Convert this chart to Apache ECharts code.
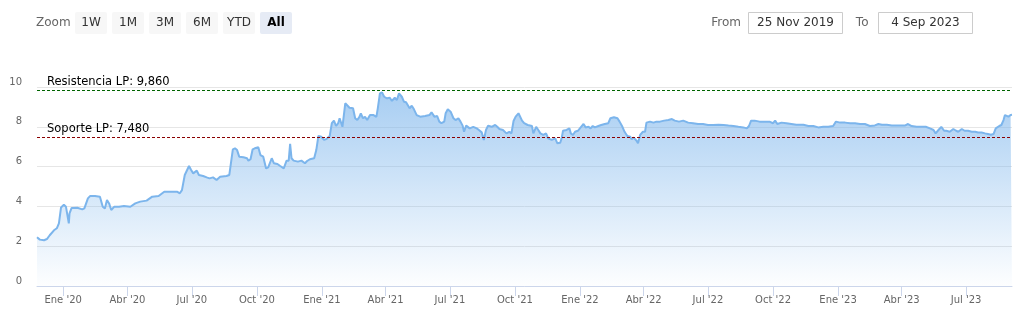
<!DOCTYPE html>
<html>
<head>
<meta charset="utf-8">
<script src="https://cdn.jsdelivr.net/npm/echarts@6/dist/echarts.min.js"></script>
<style>
html,body{margin:0;padding:0;background:#fff;}
#chart{width:1028px;height:315px;}
</style>
</head>
<body>
<div id="chart"></div>
<script>
// ---- data ----
const dates = [
'2019-11-25','2019-11-29','2019-12-05','2019-12-09','2019-12-13','2019-12-19','2019-12-23','2019-12-26','2019-12-29',
'2020-01-02','2020-01-05','2020-01-09','2020-01-10','2020-01-13','2020-01-21','2020-01-28','2020-01-31',
'2020-02-05','2020-02-08','2020-02-15','2020-02-22','2020-02-26','2020-02-29',
'2020-03-03','2020-03-06','2020-03-09','2020-03-13','2020-03-20','2020-03-27',
'2020-04-05','2020-04-12','2020-04-19','2020-04-28',
'2020-05-06','2020-05-15','2020-05-23','2020-05-31',
'2020-06-10','2020-06-14','2020-06-17','2020-06-21','2020-06-27','2020-06-30',
'2020-07-03','2020-07-08','2020-07-11','2020-07-17','2020-07-22','2020-07-26','2020-07-31',
'2020-08-05','2020-08-10','2020-08-19','2020-08-23','2020-08-25','2020-08-28','2020-08-31',
'2020-09-03','2020-09-06','2020-09-12','2020-09-17','2020-09-19','2020-09-22','2020-09-25','2020-09-28',
'2020-10-03','2020-10-06','2020-10-10','2020-10-14','2020-10-17','2020-10-22','2020-10-25','2020-10-30',
'2020-11-03','2020-11-05','2020-11-08','2020-11-12','2020-11-15','2020-11-17','2020-11-19','2020-11-22','2020-11-28',
'2020-12-03','2020-12-08','2020-12-11','2020-12-15','2020-12-21','2020-12-24','2020-12-27','2020-12-31',
'2021-01-04','2021-01-07','2021-01-12','2021-01-15','2021-01-18','2021-01-21','2021-01-24','2021-01-26','2021-01-30',
'2021-02-03','2021-02-05','2021-02-09','2021-02-14','2021-02-17','2021-02-20','2021-02-23','2021-02-25','2021-02-28',
'2021-03-03','2021-03-06','2021-03-10','2021-03-15','2021-03-19','2021-03-21','2021-03-24','2021-03-27','2021-03-30',
'2021-04-03','2021-04-07','2021-04-10','2021-04-12','2021-04-14','2021-04-17','2021-04-20','2021-04-24','2021-04-27','2021-04-30',
'2021-05-05','2021-05-08','2021-05-11','2021-05-15','2021-05-20','2021-05-27',
'2021-06-02','2021-06-05','2021-06-09','2021-06-13','2021-06-16','2021-06-19','2021-06-23','2021-06-25','2021-06-28',
'2021-07-02','2021-07-06','2021-07-09','2021-07-13','2021-07-16','2021-07-19','2021-07-21','2021-07-24','2021-07-29',
'2021-08-03','2021-08-08','2021-08-11','2021-08-15','2021-08-18','2021-08-21','2021-08-24','2021-08-29',
'2021-09-03','2021-09-06','2021-09-09','2021-09-14','2021-09-19','2021-09-23','2021-09-26','2021-09-29',
'2021-10-02','2021-10-06','2021-10-08','2021-10-11','2021-10-14','2021-10-19','2021-10-25','2021-10-27','2021-10-31',
'2021-11-03','2021-11-06','2021-11-10','2021-11-14','2021-11-17','2021-11-22','2021-11-27','2021-11-30',
'2021-12-04','2021-12-06','2021-12-08','2021-12-13','2021-12-17','2021-12-19','2021-12-22','2021-12-25','2021-12-29',
'2022-01-02','2022-01-06','2022-01-09','2022-01-13','2022-01-16','2022-01-19','2022-01-22','2022-01-27','2022-01-31',
'2022-02-05','2022-02-10','2022-02-13','2022-02-18','2022-02-23','2022-02-26',
'2022-03-02','2022-03-05','2022-03-09','2022-03-13','2022-03-15','2022-03-18','2022-03-22','2022-03-24','2022-03-27','2022-03-31',
'2022-04-03','2022-04-05','2022-04-10','2022-04-15','2022-04-19','2022-04-24','2022-04-30',
'2022-05-06','2022-05-11','2022-05-15','2022-05-21','2022-05-27',
'2022-06-03','2022-06-10','2022-06-17','2022-06-24',
'2022-07-01','2022-07-08','2022-07-16','2022-07-23','2022-07-30',
'2022-08-06','2022-08-13','2022-08-20','2022-08-25','2022-08-28','2022-08-31',
'2022-09-05','2022-09-12','2022-09-19','2022-09-26',
'2022-10-01','2022-10-04','2022-10-07','2022-10-13','2022-10-20','2022-10-27',
'2022-11-03','2022-11-13','2022-11-20','2022-11-27',
'2022-12-04','2022-12-11','2022-12-18','2022-12-25','2022-12-29',
'2023-01-04','2023-01-11','2023-01-18','2023-01-25',
'2023-02-01','2023-02-08','2023-02-15','2023-02-22','2023-02-27',
'2023-03-04','2023-03-11','2023-03-18','2023-03-25','2023-03-31',
'2023-04-06','2023-04-10','2023-04-15','2023-04-22','2023-04-29',
'2023-05-05','2023-05-11','2023-05-16','2023-05-19','2023-05-23','2023-05-27','2023-05-31',
'2023-06-03','2023-06-08','2023-06-13','2023-06-17','2023-06-20','2023-06-25','2023-06-29',
'2023-07-04','2023-07-09','2023-07-14','2023-07-18','2023-07-23','2023-07-28',
'2023-08-01','2023-08-05','2023-08-09','2023-08-12','2023-08-17','2023-08-20','2023-08-23','2023-08-25','2023-08-30',
'2023-09-02','2023-09-04'
];
const values = [
2.45,2.33,2.30,2.36,2.55,2.80,2.90,3.15,3.95,
4.08,3.98,3.15,3.65,3.92,3.93,3.85,3.90,
4.40,4.52,4.52,4.48,3.98,3.90,
4.32,4.15,3.82,3.98,3.98,4.02,
3.98,4.15,4.24,4.29,
4.49,4.52,4.74,4.74,
4.74,4.66,4.82,5.58,6.03,5.83,
5.66,5.80,5.58,5.53,5.46,5.41,5.46,
5.33,5.49,5.53,5.58,5.53,6.87,6.92,
6.83,6.50,6.47,6.42,6.30,6.37,6.87,6.92,
6.97,6.58,6.50,5.91,5.96,6.42,6.17,6.13,
6.03,6.08,5.91,6.30,6.30,7.14,6.42,6.30,6.25,
6.30,6.17,6.28,6.37,6.42,6.83,7.54,7.50,
7.34,7.38,7.54,8.18,8.31,8.04,8.18,8.43,8.00,
9.18,9.23,8.96,8.93,8.43,8.34,8.50,8.68,8.43,
8.50,8.34,8.59,8.59,8.50,8.93,9.68,9.73,9.51,
9.43,9.46,9.30,9.40,9.46,9.35,9.68,9.51,9.26,9.23,
8.93,9.06,8.89,8.59,8.51,8.54,
8.59,8.73,8.51,8.54,8.26,8.18,8.26,8.68,8.88,
8.76,8.43,8.34,8.43,8.26,8.06,7.75,8.06,7.92,
8.00,7.92,7.84,7.72,7.34,7.84,8.06,8.00,
8.09,8.00,7.89,7.84,7.67,7.75,7.67,8.29,
8.51,8.68,8.64,8.31,8.18,8.09,8.04,7.67,8.00,
7.84,7.67,7.59,7.67,7.42,7.34,7.42,7.17,
7.20,7.42,7.80,7.84,7.92,7.67,7.59,7.75,7.80,
7.97,8.14,7.97,8.00,7.92,8.04,7.97,8.04,8.09,
8.14,8.18,8.43,8.48,8.43,8.26,
8.00,7.75,7.54,7.50,7.37,7.46,7.30,7.17,7.59,7.75,
7.75,8.21,8.26,8.21,8.26,8.26,8.31,
8.34,8.39,8.31,8.26,8.31,
8.21,8.18,8.14,8.14,
8.09,8.09,8.10,8.09,8.06,
8.04,8.00,7.97,7.92,8.04,8.31,
8.31,8.26,8.26,8.26,
8.18,8.31,8.14,8.21,8.18,8.14,
8.10,8.10,8.04,8.04,
7.97,8.00,8.00,8.04,8.26,
8.21,8.21,8.18,8.18,
8.14,8.14,8.04,8.07,8.14,
8.10,8.10,8.07,8.07,8.07,
8.07,8.14,8.04,8.00,8.00,
8.00,7.92,7.84,7.67,7.84,8.00,7.80,
7.80,7.75,7.89,7.80,7.75,7.89,7.80,
7.80,7.75,7.75,7.71,7.71,7.67,
7.64,7.60,7.64,7.92,8.04,8.09,8.34,8.59,8.51,
8.59,8.60
];
const monthNames = ['Ene','Feb','Mar','Abr','May','Jun','Jul','Ago','Sep','Oct','Nov','Dic'];
const yTicks = [0, 2, 4, 6, 8, 10];
const resistance = 9.86;
const support = 7.48;
const rangeButtons = ['1W','1M','3M','6M','YTD','All'];
const fromText = '25 Nov 2019';
const toText = '4 Sep 2023';
const startDate = '2019-11-25';
const endDate = '2023-09-04';

// ---- chart ----
const chart = echarts.init(document.getElementById('chart'), null, {renderer: 'canvas'});
const seriesData = dates.map((d, i) => [d, values[i]]);
const FONT = 'DejaVu Sans';

const graphics = [];
graphics.push({type: 'text', style: {text: 'Zoom', x: 36, y: 23, verticalAlign: 'middle', fill: '#666666', fontSize: 12, fontFamily: FONT}});
rangeButtons.forEach((b, i) => {
  const x = 75 + i * 37;
  const sel = b === 'All';
  graphics.push({type: 'rect', shape: {x: x, y: 12, width: 32, height: 22, r: 2}, style: {fill: sel ? '#e6ebf5' : '#f7f7f7'}});
  graphics.push({type: 'text', style: {text: b, x: x + 16, y: 23, align: 'center', verticalAlign: 'middle',
    fill: sel ? '#000000' : '#333333', fontSize: 12, fontFamily: FONT, fontWeight: sel ? 'bold' : 'normal'}});
});
graphics.push({type: 'text', style: {text: 'From', x: 741, y: 23, align: 'right', verticalAlign: 'middle', fill: '#666666', fontSize: 12, fontFamily: FONT}});
graphics.push({type: 'rect', shape: {x: 748.5, y: 12.5, width: 94, height: 21}, style: {fill: '#ffffff', stroke: '#cccccc', lineWidth: 1}});
graphics.push({type: 'text', style: {text: fromText, x: 795.5, y: 23, align: 'center', verticalAlign: 'middle', fill: '#333333', fontSize: 12, fontFamily: FONT}});
graphics.push({type: 'text', style: {text: 'To', x: 868.5, y: 23, align: 'right', verticalAlign: 'middle', fill: '#666666', fontSize: 12, fontFamily: FONT}});
graphics.push({type: 'rect', shape: {x: 878.5, y: 12.5, width: 94, height: 21}, style: {fill: '#ffffff', stroke: '#cccccc', lineWidth: 1}});
graphics.push({type: 'text', style: {text: toText, x: 925.5, y: 23, align: 'center', verticalAlign: 'middle', fill: '#333333', fontSize: 12, fontFamily: FONT}});

const option = {
  animation: false,
  backgroundColor: '#ffffff',
  grid: {left: 37, right: 16, top: 87, bottom: 29, containLabel: false},
  graphic: graphics,
  xAxis: {
    type: 'time',
    min: startDate,
    max: endDate,
    splitNumber: 15,
    minInterval: 80 * 86400000,
    maxInterval: 100 * 86400000,
    axisLine: {show: true, lineStyle: {color: '#ccd6eb', width: 1}},
    axisTick: {show: true, length: 10, lineStyle: {color: '#ccd6eb'}},
    splitLine: {show: false},
    axisLabel: {
      color: '#666666', fontSize: 10, fontFamily: FONT, margin: 9,
      hideOverlap: false,
      formatter: function (val) {
        const d = new Date(val);
        if (d.getDate() !== 1 || d.getMonth() % 3 !== 0) return '';
        return monthNames[d.getMonth()] + " '" + String(d.getFullYear()).slice(2);
      }
    }
  },
  yAxis: {
    type: 'value',
    min: yTicks[0],
    max: yTicks[yTicks.length - 1],
    interval: 2,
    axisLine: {show: false},
    axisTick: {show: false},
    splitLine: {show: true, lineStyle: {color: '#e6e6e6', width: 1}},
    axisLabel: {color: '#666666', fontSize: 10, fontFamily: FONT, margin: 15, verticalAlign: 'bottom'}
  },
  series: [{
    type: 'line',
    data: seriesData,
    showSymbol: false,
    symbol: 'none',
    lineStyle: {color: '#7cb5ec', width: 2},
    itemStyle: {color: '#7cb5ec'},
    areaStyle: {
      color: new echarts.graphic.LinearGradient(0, 0, 0, 1, [
        {offset: 0, color: 'rgba(124,181,236,0.95)'},
        {offset: 1, color: 'rgba(124,181,236,0.02)'}
      ])
    },
    markLine: {
      silent: true,
      symbol: 'none',
      animation: false,
      data: [
        {yAxis: resistance, lineStyle: {color: '#006400', type: [3, 2], width: 1},
         label: {formatter: 'Resistencia LP: 9,860'}},
        {yAxis: support, lineStyle: {color: '#8b0000', type: [3, 2], width: 1},
         label: {formatter: 'Soporte LP: 7,480'}}
      ],
      label: {show: true, position: 'insideStartTop', distance: [10, 2], color: '#000000', fontSize: 11.5, fontFamily: FONT}
    }
  }]
};
chart.setOption(option);
</script>
</body>
</html>
